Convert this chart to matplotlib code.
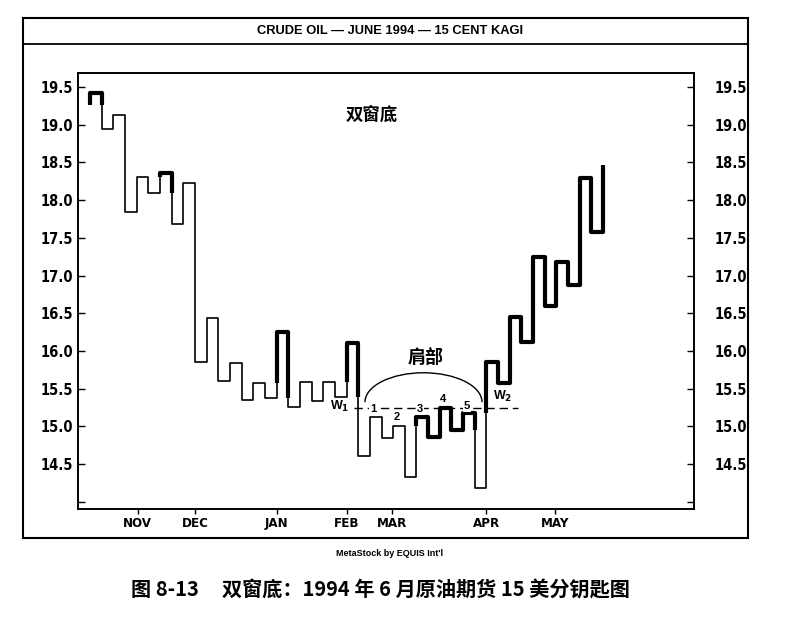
import matplotlib
matplotlib.use("Agg")
import matplotlib.pyplot as plt
from matplotlib.patches import Arc, Rectangle
from matplotlib.lines import Line2D

# ---------- data ----------
# Kagi turning prices, 15 cent reversal; one vertical line per column
prices = [19.26, 19.42, 18.94, 19.13, 17.84, 18.31, 18.09, 18.36, 17.68, 18.23,
          15.85, 16.44, 15.60, 15.84, 15.35, 15.57, 15.38, 16.25, 15.26, 15.59,
          15.34, 15.59, 15.39, 16.10, 14.61, 15.12, 14.84, 15.00, 14.33, 15.12,
          14.86, 15.24, 14.95, 15.17, 14.18, 15.85, 15.57, 16.45, 16.12, 17.25,
          16.60, 17.18, 16.87, 18.29, 17.58, 18.47]
month_labels = ["NOV", "DEC", "JAN", "FEB", "MAR", "APR", "MAY"]
month_cols = [4.1, 9.0, 16.0, 22.0, 25.9, 34.0, 39.9]
y_ticks = [14.0, 14.5, 15.0, 15.5, 16.0, 16.5, 17.0, 17.5, 18.0, 18.5, 19.0, 19.5]
y_labels = ["", "14.5", "15.0", "15.5", "16.0", "16.5", "17.0", "17.5",
            "18.0", "18.5", "19.0", "19.5"]
neckline = 15.24
wave_labels = ["1", "2", "3", "4", "5"]

W, H = 786, 617
NARROW = ["DejaVu Sans"]
SANS = ["Liberation Sans", "DejaVu Sans"]
CJK = ["Noto Sans CJK SC", "DejaVu Sans"]


def fx(x):
    return x / W


def fy(y):
    return 1 - y / H


def kagi_segments(p):
    # yang (thick) above the last shoulder, yin (thin) below the last waist
    segs = []
    thick = True
    hi, lo = None, p[0]
    for k in range(len(p) - 1):
        a, b = p[k], p[k + 1]
        if b > a:
            if not thick and hi is not None and b > hi:
                segs.append(((k, a), (k, hi), False))
                segs.append(((k, hi), (k, b), True))
                thick = True
            else:
                segs.append(((k, a), (k, b), thick))
            hi = b
        else:
            if thick and b < lo:
                segs.append(((k, a), (k, lo), True))
                segs.append(((k, lo), (k, b), False))
                thick = False
            else:
                segs.append(((k, a), (k, b), thick))
            lo = b
        if k < len(p) - 2:
            segs.append(((k, b), (k + 1, b), thick))
    return segs


fig = plt.figure(figsize=(W / 100, H / 100), dpi=100)

# outer frame + title band
fig.add_artist(Rectangle((fx(23), fy(538)), fx(748) - fx(23), fy(18) - fy(538),
                         transform=fig.transFigure, fill=False, lw=1.5, ec="black"))
fig.add_artist(Line2D([fx(23), fx(748)], [fy(44), fy(44)],
                      transform=fig.transFigure, lw=1.3, color="black"))
fig.text(fx(390), fy(31), "CRUDE OIL \u2014 JUNE 1994 \u2014 15 CENT KAGI",
         ha="center", va="center", fontsize=9.3, fontweight="bold", family=SANS)
fig.text(fx(390), fy(553), "MetaStock by EQUIS Int'l", ha="center", va="center",
         fontsize=6.5, fontweight="bold", family=SANS)
fig.text(fx(380), fy(590), "图 8-13     双窗底：1994 年 6 月原油期货 15 美分钥匙图",
         ha="center", va="center", fontsize=14.5, fontweight="bold", family=CJK)

ax = fig.add_axes([fx(78), fy(509), fx(694) - fx(78), fy(73) - fy(509)])
ax.set_xlim(-1.03, 51.8)
ax.set_ylim(13.903, 19.686)
for s in ax.spines.values():
    s.set_linewidth(1.2)

# ---------- kagi line ----------
runs = []
for s, e, t in kagi_segments(prices):
    if runs and runs[-1][1] == t:
        runs[-1][0].append(e)
    else:
        runs.append(([s, e], t))
for pts, t in runs:
    xs = [q[0] for q in pts]
    ys = [q[1] for q in pts]
    ax.plot(xs, ys, color="black", lw=3.0 if t else 1.2,
            solid_joinstyle="round", solid_capstyle="butt", zorder=3)

# ---------- annotations ----------
ax.plot([22.6, 36.7], [neckline, neckline], color="black", lw=1.0,
        dashes=(6, 3.5), zorder=2)
lab_kw = dict(ha="center", va="center", fontsize=8, fontweight="bold",
              family=SANS, zorder=4, bbox=dict(fc="white", ec="none", pad=0.6))
wave_xy = [(24.27, 15.23), (26.33, 15.12), (28.30, 15.23), (30.27, 15.36), (32.33, 15.27)]
for lab, (x, y) in zip(wave_labels, wave_xy):
    ax.text(x, y, lab, **lab_kw)
w_kw = dict(lab_kw, fontsize=9)
ax.text(21.44, 15.26, r"W$_\mathbf{1}$", **w_kw)
ax.text(35.42, 15.40, r"W$_\mathbf{2}$", **w_kw)

ax.add_patch(Arc((28.6, 15.32), 10.04, 0.78, theta1=0, theta2=180,
                 color="black", lw=1.0, zorder=2))
ax.text(28.75, 15.91, "肩部", ha="center", va="center", fontsize=13,
        fontweight="bold", family=CJK)
ax.text(24.2, 19.13, "双窗底", ha="center", va="center", fontsize=12.5,
        fontweight="bold", family=CJK)

# ---------- ticks ----------
tick_font = dict(family=NARROW, fontweight="bold", fontstretch="condensed")
ax.set_yticks(y_ticks)
ax.set_yticklabels(y_labels, fontsize=10.5, **tick_font)
ax.tick_params(axis="y", direction="in", length=5, width=1.0, pad=3.5,
               left=True, right=False)
ax.set_xticks(month_cols)
ax.set_xticklabels(month_labels, fontsize=9.5, **tick_font)
ax.tick_params(axis="x", direction="out", length=3.6, width=1.0, pad=2)

ax2 = ax.twinx()
ax2.set_ylim(ax.get_ylim())
ax2.set_yticks(y_ticks)
ax2.set_yticklabels(y_labels, fontsize=10.5, **tick_font)
ax2.tick_params(axis="y", direction="in", length=5, width=1.0, pad=15)
for s in ax2.spines.values():
    s.set_linewidth(1.2)

fig.savefig("out.png", dpi=100)
